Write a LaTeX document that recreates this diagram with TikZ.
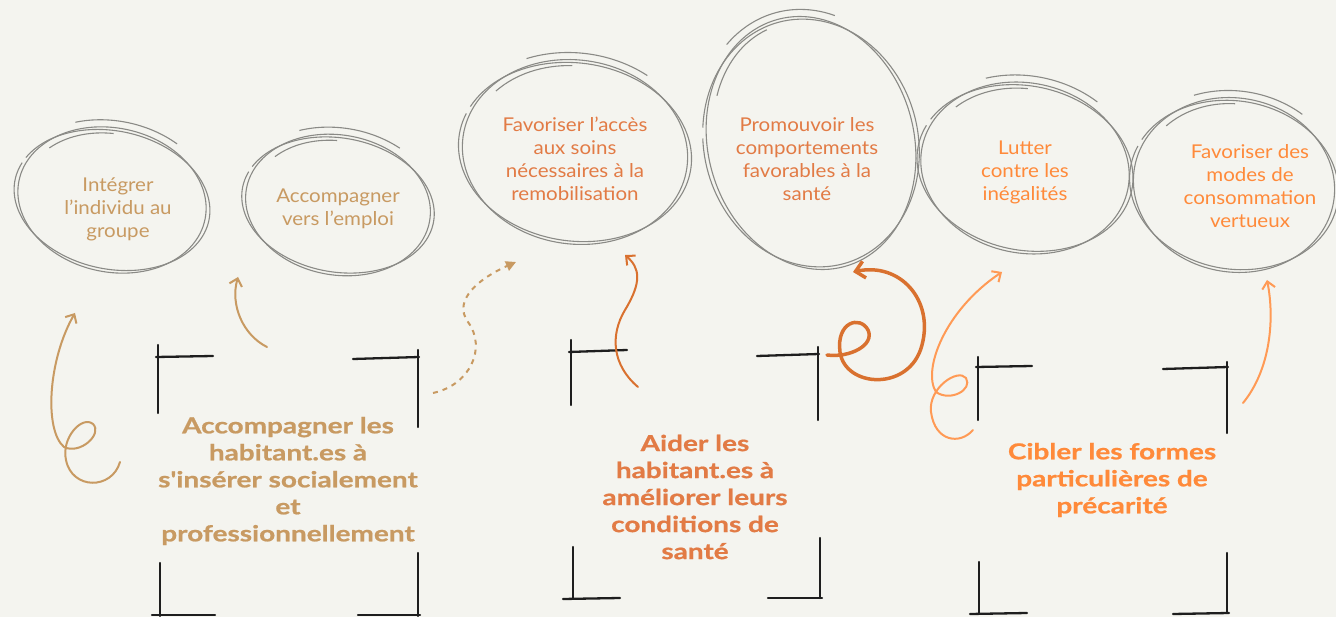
\documentclass[tikz,border=0pt]{standalone}
\usepackage{fontspec}
\setmainfont{Lato}[FakeStretch=1.08]
\newfontfamily\headfont{Lato}[FakeStretch=1.27,FakeBold=0.8]
\usetikzlibrary{arrows.meta}
\definecolor{bg}{HTML}{F4F4EF}
\definecolor{tanc}{HTML}{C89A62}
\definecolor{midor}{HTML}{E27B45}
\definecolor{midarrow}{HTML}{D9712F}
\definecolor{ror}{HTML}{FF8A3A}
\definecolor{rarrow}{HTML}{FF9A55}
\definecolor{skc}{HTML}{8A8A86}
\definecolor{ink}{HTML}{1E1E1E}
\newcommand\skellipse[5]{%
  \begin{scope}[shift={(#1,#2)},rotate=#5]
    \pgfmathsetmacro\rxa{#3+4}\pgfmathsetmacro\rya{#4-3}
    \pgfmathsetmacro\rxb{#3+9}\pgfmathsetmacro\ryb{#4+7}
    \pgfmathsetmacro\rxc{#3-7}\pgfmathsetmacro\ryc{#4-6}
    \draw[skline] (0,0) ellipse[x radius=#3, y radius=#4];
    \draw[skline] ({\rxa*cos(200)},{\rya*sin(200)}) arc[start angle=200,end angle=555,x radius=\rxa,y radius=\rya];
    \draw[skline] ({\rxb*cos(240)},{\ryb*sin(240)}) arc[start angle=240,end angle=300,x radius=\rxb,y radius=\ryb];
    \draw[skline] ({\rxc*cos(215)},{\ryc*sin(215)}) arc[start angle=215,end angle=262,x radius=\rxc,y radius=\ryc];
  \end{scope}}
\tikzset{
  skline/.style={draw=skc, line width=1.1pt},
  elltext/.style={align=center, font=\fontsize{19}{23}\selectfont},
  head/.style={align=center, font=\headfont\bfseries\fontsize{22}{27}\selectfont},
  corner/.style={draw=ink, line width=2.3pt, line cap=round},
  arr/.style={line width=2pt, line cap=round, -{Straight Barb[length=7pt,width=13pt,line width=2pt]}},
}
\begin{document}
\begin{tikzpicture}[x=1pt,y=-1pt]
\useasboundingbox (0,0) rectangle (1336,617);
\fill[bg] (0,0) rectangle (1336,617);

% sketched ellipses
\skellipse{112}{200}{95}{72}{-12}
\skellipse{338}{205}{93}{70}{-10}
\skellipse{575}{152}{113}{92}{-8}
\skellipse{811}{143}{103}{128}{15}
\skellipse{1025}{168}{105}{85}{-12}
\skellipse{1234}{185}{101}{87}{-10}

% ellipse texts
\node[elltext, text=tanc] (e1) at (118,209) {Intégrer\\l'individu au\\groupe};
\node[elltext, text=tanc] (e2) at (338,209) {Accompagner\\vers l'emploi};
\node[elltext, text=midor] (e3) at (575,159) {Favoriser l'accès\\aux soins\\nécessaires à la\\remobilisation};
\node[elltext, text=midor] (e4) at (807,159) {Promouvoir les\\comportements\\favorables à la\\santé};
\node[elltext, text=ror] (e5) at (1025,172) {Lutter\\contre les\\inégalités};
\node[elltext, text=ror] (e6) at (1250,186) {Favoriser des\\modes de\\consommation\\vertueux};

% main texts
\node[head, text=tanc] (g1) at (288,481) {Accompagner les\\habitant.es à\\s'insérer socialement\\et\\professionnellement};
\node[head, text=midor] (g2) at (695,497) {Aider les\\habitant.es à\\améliorer leurs\\conditions de\\santé};
\node[head, text=ror] (g3) at (1112,480) {Cibler les formes\\particulières de\\précarité};

% corner brackets group 1
\draw[corner] (158,413) -- (158,345);
\draw[corner] (156,357) -- (213,356);
\draw[corner] (353,359) -- (419,357);
\draw[corner] (418,350) -- (418,427);
\draw[corner] (160,563) -- (160,616);
\draw[corner] (152,615) -- (215,615);
\draw[corner] (418,553) -- (418,616);
\draw[corner] (358,615) -- (420,615);
% group 2
\draw[corner] (571,405) -- (571,340);
\draw[corner] (569,352) -- (627,350);
\draw[corner] (757,356) -- (819,354);
\draw[corner] (818,347) -- (818,420);
\draw[corner] (573,547) -- (573,598);
\draw[corner] (563,599) -- (620,598);
\draw[corner] (820,538) -- (820,598);
\draw[corner] (768,598) -- (822,598);
% group 3
\draw[corner] (978,420) -- (978,357);
\draw[corner] (976,367) -- (1032,366);
\draw[corner] (1163,369) -- (1228,367);
\draw[corner] (1227,362) -- (1227,433);
\draw[corner] (979,562) -- (979,613);
\draw[corner] (970,614) -- (1027,613);
\draw[corner] (1227,553) -- (1227,613);
\draw[corner] (1173,614) -- (1229,613);

% arrow end points
\coordinate (a1s) at (120,462); \coordinate (a1e) at (75,313);
\coordinate (a2s) at (267,347); \coordinate (a2e) at (238,277);
\coordinate (a3s) at (433,393); \coordinate (a3e) at (516,262);
\coordinate (a4s) at (638,387); \coordinate (a4e) at (625,255);
\coordinate (a5s) at (827,355); \coordinate (a5e) at (853,272);
\coordinate (a6s) at (973,430); \coordinate (a6e) at (1002,272);
\coordinate (a7s) at (1243,403); \coordinate (a7e) at (1267,280);

\draw[arr, tanc] (a1s) .. controls (112,490) and (72,490) .. (66,460)
  .. controls (61,438) and (82,415) .. (93,424)
  .. controls (103,434) and (80,455) .. (64,447)
  .. controls (44,430) and (48,360) .. (a1e);
\draw[arr, tanc] (a2s) .. controls (243,335) and (230,305) .. (a2e);
\draw[tanc, line width=2pt, dash pattern=on 5pt off 5pt, -{Triangle[length=10pt,width=10pt]}]
  (a3s) .. controls (470,385) and (487,348) .. (468,322)
  .. controls (452,300) and (480,278) .. (a3e);
\draw[arr, midarrow] (a4s) .. controls (612,365) and (610,335) .. (625,310)
  .. controls (642,282) and (640,268) .. (a4e);
\draw[arr, midarrow, line width=3.5pt, -{Straight Barb[length=9pt,width=17pt,line width=3.5pt]}]
  (a5s) .. controls (850,358) and (875,345) .. (868,330)
  .. controls (860,315) and (836,322) .. (840,352)
  .. controls (845,388) and (910,392) .. (922,345)
  .. controls (934,300) and (900,262) .. (a5e);
\draw[arr, rarrow] (a6s) .. controls (960,445) and (935,442) .. (931,412)
  .. controls (928,388) and (958,368) .. (966,378)
  .. controls (973,390) and (950,402) .. (936,392)
  .. controls (922,370) and (945,310) .. (a6e);
\draw[arr, rarrow] (a7s) .. controls (1270,370) and (1275,320) .. (a7e);
\end{tikzpicture}
\end{document}
